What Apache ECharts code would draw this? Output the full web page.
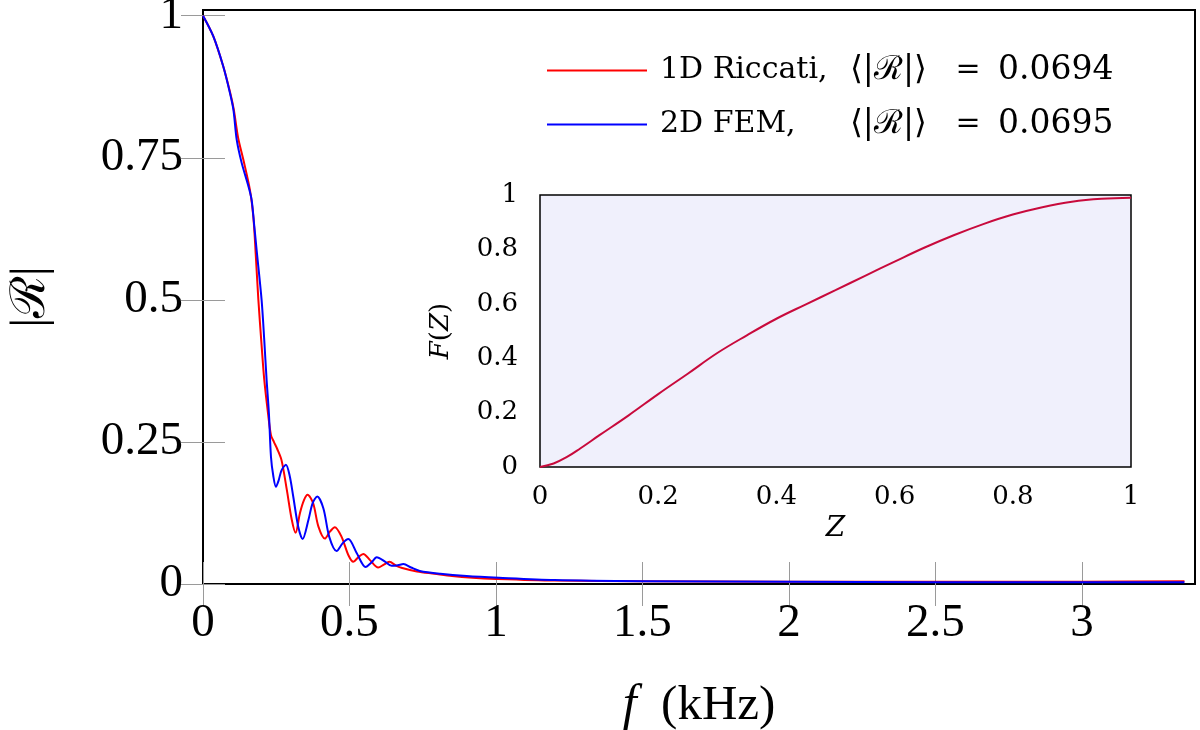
<!DOCTYPE html>
<html>
<head>
    <meta charset="utf-8">
    <style>
        html, body {
            height: 100%;
            background: #fff;
        }

        * {
            margin: 0;
            padding: 0;
        }

        #container {
            width: 1200px;
            height: 730px;
        }
    </style>
</head>
<body>
<div id="container"></div>
<script type="text/javascript" src="https://cdn.jsdelivr.net/npm/echarts/dist/echarts.min.js"></script>
<script type="text/javascript">
    // main plot: |R| against f (kHz)
    const freqRiccati = [0, 0.035, 0.069, 0.092, 0.105, 0.12, 0.138, 0.16, 0.172, 0.18,
        0.189, 0.2, 0.209, 0.222, 0.232, 0.242, 0.253, 0.268, 0.286, 0.303,
        0.316, 0.331, 0.345, 0.357, 0.376, 0.394, 0.416, 0.433, 0.45, 0.473,
        0.496, 0.513, 0.53, 0.547, 0.57, 0.598, 0.617, 0.636, 0.66, 0.68,
        0.73, 0.79, 0.85, 0.92, 1.0, 1.2, 1.5, 2.0, 2.5, 3.0, 3.35];
    const valRiccati = [1.0, 0.964, 0.911, 0.866, 0.835, 0.785, 0.746, 0.694, 0.645, 0.58,
        0.50, 0.42, 0.36, 0.30, 0.262, 0.25, 0.238, 0.218, 0.166, 0.113,
        0.090, 0.125, 0.148, 0.157, 0.142, 0.101, 0.080, 0.092, 0.10, 0.083,
        0.051, 0.039, 0.047, 0.053, 0.042, 0.029, 0.034, 0.039, 0.032, 0.028,
        0.022, 0.018, 0.014, 0.011, 0.009, 0.006, 0.005, 0.004, 0.004, 0.004, 0.005];

    const freqFem = [0, 0.035, 0.069, 0.092, 0.104, 0.115, 0.132, 0.155, 0.166, 0.175,
        0.183, 0.2, 0.209, 0.217, 0.225, 0.232, 0.24, 0.249, 0.258, 0.268,
        0.283, 0.296, 0.308, 0.325, 0.34, 0.36, 0.374, 0.39, 0.411, 0.431,
        0.456, 0.477, 0.496, 0.525, 0.555, 0.575, 0.593, 0.62, 0.644, 0.665,
        0.684, 0.71, 0.74, 0.81, 0.9, 1.01, 1.2, 1.5, 2.0, 2.5, 3.0, 3.35];
    const valFem = [1.0, 0.964, 0.911, 0.864, 0.834, 0.782, 0.741, 0.70, 0.676, 0.63,
        0.588, 0.50, 0.43, 0.36, 0.30, 0.224, 0.19, 0.171, 0.182, 0.20,
        0.21, 0.19, 0.154, 0.101, 0.079, 0.113, 0.142, 0.154, 0.133, 0.083,
        0.058, 0.072, 0.079, 0.054, 0.030, 0.038, 0.047, 0.040, 0.032, 0.033,
        0.035, 0.029, 0.023, 0.018, 0.014, 0.011, 0.007, 0.005, 0.004, 0.003, 0.003, 0.003];

    const freqTicks = [0, 0.5, 1, 1.5, 2, 2.5, 3];
    const magTicks = [0, 0.25, 0.5, 0.75, 1];

    // inset: F(Z)
    const zVals = [0, 0.023, 0.045, 0.068, 0.1, 0.15, 0.2, 0.25, 0.3, 0.35, 0.4, 0.45,
        0.5, 0.55, 0.6, 0.65, 0.7, 0.75, 0.8, 0.85, 0.9, 0.95, 1.0];
    const fzVals = [0, 0.013, 0.036, 0.068, 0.116, 0.19, 0.268, 0.343, 0.419, 0.484, 0.545, 0.598,
        0.65, 0.703, 0.755, 0.806, 0.852, 0.893, 0.928, 0.955, 0.975, 0.986, 0.99];

    const legendNames = ['1D Riccati,', '2D FEM,'];
    const legendMeans = ['0.0694', '0.0695'];

    function pairs(xs, ys) {
        return xs.map(function (x, i) { return [x, ys[i]]; });
    }

    let dom = document.getElementById("container");
    let myChart = echarts.init(dom);

    const tickStyle = {inside: true, length: 22, lineStyle: {color: '#9a9a9a', width: 1}};
    const mainFont = {fontFamily: 'Liberation Serif', fontSize: 47, color: '#000'};
    const insetFont = {fontFamily: 'DejaVu Serif', fontSize: 26, color: '#000'};
    const legendFont = {fontFamily: 'DejaVu Serif', fontSize: 30, color: '#000'};

    let option = {
        backgroundColor: '#fff',
        animation: false,
        legend: {
            orient: 'vertical',
            left: 542,
            top: 49,
            icon: 'rect',
            itemWidth: 100,
            itemHeight: 2,
            itemGap: 21,
            data: legendNames,
            formatter: function (name) {
                let i = legendNames.indexOf(name);
                return '{a|' + name + '}{b|⟨|ℛ|⟩}{c|=}{d|' + legendMeans[i] + '}';
            },
            textStyle: Object.assign({
                lineHeight: 33,
                rich: {
                    a: Object.assign({width: 190, padding: [0, 0, 0, 8]}, legendFont),
                    b: Object.assign({width: 88}, legendFont, {fontSize: 33}),
                    c: Object.assign({width: 60, align: 'center'}, legendFont),
                    d: Object.assign({}, legendFont, {fontSize: 33})
                }
            }, legendFont)
        },
        grid: [{
            left: 203, right: 5, top: 10, bottom: 146, outerBoundsMode: 'none',
            show: true, borderColor: '#000', borderWidth: 2, backgroundColor: 'transparent'
        }, {
            left: 540, top: 195, width: 591, height: 272, outerBoundsMode: 'none',
            show: true, borderColor: '#000', borderWidth: 1.5, backgroundColor: '#f0f0fc'
        }],
        xAxis: [{
            gridIndex: 0, type: 'value', min: 0, max: 3.386,
            axisLine: {show: false}, splitLine: {show: false},
            axisTick: Object.assign({customValues: freqTicks}, tickStyle),
            axisLabel: Object.assign({margin: 16, customValues: freqTicks}, mainFont),
            name: '{i|f}  (kHz)', nameLocation: 'middle', nameGap: 97,
            nameTextStyle: Object.assign({}, mainFont, {
                fontSize: 49,
                rich: {i: {fontFamily: 'Liberation Serif', fontSize: 50, fontStyle: 'italic'}}
            })
        }, {
            gridIndex: 0, type: 'value', position: 'top', min: 0, max: 3.386,
            axisLine: {show: false}, splitLine: {show: false},
            axisTick: Object.assign({customValues: freqTicks}, tickStyle),
            axisLabel: {show: false}
        }, {
            gridIndex: 1, type: 'value', min: 0, max: 1, interval: 0.2,
            axisLine: {show: false}, splitLine: {show: false}, axisTick: {show: false},
            axisLabel: Object.assign({margin: 17}, insetFont),
            name: 'Z', nameLocation: 'middle', nameGap: 48,
            nameTextStyle: Object.assign({}, insetFont, {fontStyle: 'italic', fontSize: 28})
        }],
        yAxis: [{
            gridIndex: 0, type: 'value', min: 0, max: 1.01,
            axisLine: {show: false}, splitLine: {show: false},
            axisTick: Object.assign({customValues: magTicks}, tickStyle),
            axisLabel: Object.assign({margin: 20, customValues: magTicks}, mainFont),
            name: '|ℛ|', nameLocation: 'middle', nameGap: 148, nameRotate: 90,
            nameTextStyle: Object.assign({}, mainFont, {fontSize: 48})
        }, {
            gridIndex: 0, type: 'value', position: 'right', min: 0, max: 1.01,
            axisLine: {show: false}, splitLine: {show: false},
            axisTick: Object.assign({customValues: magTicks}, tickStyle),
            axisLabel: {show: false}
        }, {
            gridIndex: 1, type: 'value', min: 0, max: 1, interval: 0.2,
            axisLine: {show: false}, splitLine: {show: false}, axisTick: {show: false},
            axisLabel: Object.assign({margin: 22}, insetFont),
            name: '{i|F}({i|Z})', nameLocation: 'middle', nameGap: 86, nameRotate: 90,
            nameTextStyle: Object.assign({}, insetFont, {
                rich: {i: {fontFamily: 'DejaVu Serif', fontSize: 26, fontStyle: 'italic'}}
            })
        }],
        series: [{
            name: legendNames[0],
            type: 'line',
            xAxisIndex: 0, yAxisIndex: 0,
            showSymbol: false,
            smooth: 0.3,
            lineStyle: {color: '#ff0000', width: 2},
            itemStyle: {color: '#ff0000'},
            data: pairs(freqRiccati, valRiccati)
        }, {
            name: legendNames[1],
            type: 'line',
            xAxisIndex: 0, yAxisIndex: 0,
            showSymbol: false,
            smooth: 0.3,
            lineStyle: {color: '#0000ff', width: 2},
            itemStyle: {color: '#0000ff'},
            data: pairs(freqFem, valFem)
        }, {
            name: 'F(Z)',
            type: 'line',
            xAxisIndex: 2, yAxisIndex: 2,
            showSymbol: false,
            smooth: 0.4,
            lineStyle: {color: '#c80a3c', width: 2},
            data: pairs(zVals, fzVals)
        }]
    };
    if (option && typeof option === "object") {
        myChart.setOption(option, true);
    }
</script>
</body>
</html>
